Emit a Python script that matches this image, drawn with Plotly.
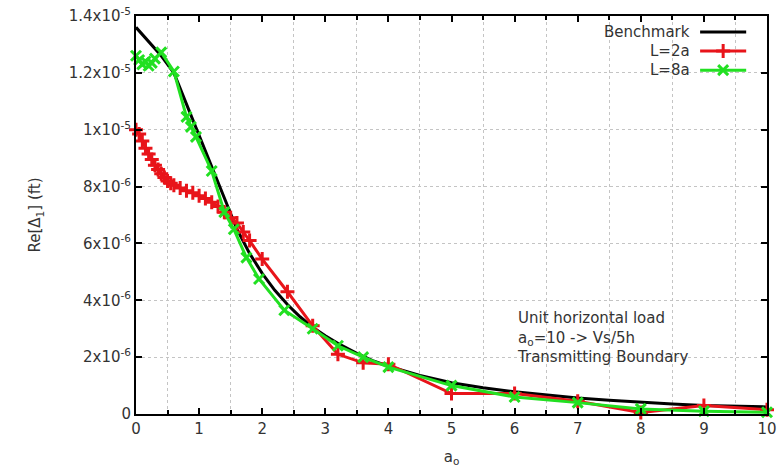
import plotly.graph_objects as go

# Frequency ratio a_o and real part of horizontal displacement (ft)
bench_a = [0, 0.2, 0.4, 0.6, 0.8, 1.0, 1.2, 1.4, 1.6, 1.8, 2.0, 2.2, 2.4, 2.6,
           2.8, 3.0, 3.25, 3.5, 3.75, 4.0, 4.5, 5.0, 5.5, 6.0, 6.5, 7.0, 7.5,
           8.0, 8.5, 9.0, 9.5, 10.0]
bench_re = [13.6, 13.1, 12.6, 12.0, 10.9, 9.8, 8.7, 7.6, 6.5, 5.65, 4.95, 4.35,
            3.85, 3.42, 3.05, 2.75, 2.42, 2.13, 1.88, 1.68, 1.36, 1.1, 0.92,
            0.78, 0.66, 0.56, 0.48, 0.41, 0.35, 0.3, 0.27, 0.25]

l2_a = [0, 0.05, 0.1, 0.15, 0.2, 0.25, 0.3, 0.35, 0.4, 0.45, 0.5, 0.55, 0.6,
        0.7, 0.8, 0.9, 1.0, 1.1, 1.2, 1.3, 1.4, 1.5, 1.6, 1.7, 1.8, 2.0, 2.4,
        2.8, 3.2, 3.6, 4.0, 5.0, 6.0, 7.0, 8.0, 9.0, 10.0]
l2_re = [10.0, 9.85, 9.6, 9.35, 9.15, 8.95, 8.75, 8.6, 8.45, 8.32, 8.2, 8.12,
         8.05, 7.95, 7.85, 7.78, 7.68, 7.58, 7.45, 7.3, 7.1, 6.9, 6.72, 6.4,
         6.1, 5.45, 4.3, 3.1, 2.1, 1.8, 1.75, 0.72, 0.72, 0.45, 0.05, 0.3, 0.15]

l8_a = [0, 0.05, 0.1, 0.15, 0.2, 0.25, 0.3, 0.4, 0.6, 0.8, 0.87, 0.95, 1.2,
        1.4, 1.55, 1.75, 1.95, 2.35, 2.8, 3.2, 3.6, 4.0, 5.0, 6.0, 7.0, 8.0,
        9.0, 10.0]
l8_re = [12.6, 12.45, 12.3, 12.4, 12.25, 12.35, 12.5, 12.72, 12.05, 10.45,
         10.1, 9.75, 8.55, 7.1, 6.5, 5.5, 4.75, 3.65, 3.0, 2.4, 2.0, 1.65, 1.0,
         0.6, 0.4, 0.18, 0.1, 0.06]

y_ticks = [0, 2e-6, 4e-6, 6e-6, 8e-6, 1e-5, 1.2e-5, 1.4e-5]
y_labels = ["0", "2x10<sup>-6</sup>", "4x10<sup>-6</sup>", "6x10<sup>-6</sup>",
            "8x10<sup>-6</sup>", "1x10<sup>-5</sup>", "1.2x10<sup>-5</sup>",
            "1.4x10<sup>-5</sup>"]

series = [
    ("Benchmark", bench_a, bench_re, "black", None),
    ("L=2a", l2_a, l2_re, "#e8141a", "cross-thin"),
    ("L=8a", l8_a, l8_re, "#22e022", "x-thin"),
]

FONT = "DejaVu Sans, Verdana, sans-serif"
TXT = "#333333"

fig = go.Figure()
for name, xs, ys, col, sym in series:
    fig.add_trace(go.Scatter(
        x=xs, y=[v * 1e-6 for v in ys], name=name,
        mode="lines" if sym is None else "lines+markers",
        line=dict(color=col, width=3),
        marker=dict(symbol=sym or "circle", size=10,
                    line=dict(color=col, width=3)),
        cliponaxis=False, showlegend=False,
    ))

# Key in the upper right: label, then line sample with its marker
key_x0, key_x1, key_txt = 0.894, 0.967, 0.881
key_rows = [0.960, 0.912, 0.864]
for (name, _, _, col, sym), ky in zip(series, key_rows):
    fig.add_trace(go.Scatter(
        x=[key_x0, key_x1], y=[ky, ky], xaxis="x2", yaxis="y2",
        mode="lines", line=dict(color=col, width=3), showlegend=False,
        hoverinfo="skip", cliponaxis=False,
    ))
    if sym:
        fig.add_trace(go.Scatter(
            x=[(key_x0 + key_x1) / 2], y=[ky], xaxis="x2", yaxis="y2",
            mode="markers", marker=dict(symbol=sym, size=10,
                                        line=dict(color=col, width=3)),
            showlegend=False, hoverinfo="skip", cliponaxis=False,
        ))
    fig.add_annotation(x=key_txt, y=ky, xref="x2", yref="y2", text=name,
                       showarrow=False, xanchor="right", yanchor="middle",
                       font=dict(family=FONT, size=15, color=TXT))

fig.add_annotation(
    x=6.0, y=3.75e-6, xref="x", yref="y", xanchor="left", yanchor="top",
    align="left", showarrow=False,
    text="Unit horizontal load<br>a<sub>o</sub>=10 -> Vs/5h<br>Transmitting Boundary",
    font=dict(family=FONT, size=15, color=TXT),
)

grid = dict(showgrid=True, gridcolor="#c4c4c4", griddash="dot", gridwidth=1)

fig.update_layout(
    width=784, height=470,
    margin=dict(l=136, r=17, t=16, b=56),
    paper_bgcolor="white", plot_bgcolor="white",
    font=dict(family=FONT, size=15, color=TXT),
    xaxis=dict(
        range=[0, 10], tickmode="linear", tick0=0, dtick=1, automargin=False,
        ticks="inside", ticklen=6, tickwidth=1.5, tickcolor="black",
        showline=True, linecolor="black", linewidth=2, mirror="ticks",
        zeroline=False, showgrid=False,
        minor=dict(dtick=0.5, ticks="inside", ticklen=4, tickcolor="black",
                   **grid),
        title=dict(text="a<sub>o</sub>", standoff=14,
                   font=dict(family=FONT, size=15, color=TXT)),
        tickfont=dict(family=FONT, size=15, color=TXT),
    ),
    yaxis=dict(
        range=[0, 1.4e-5], tickvals=y_ticks, ticktext=y_labels,
        automargin=False,
        ticks="inside", ticklen=6, tickwidth=1.5, tickcolor="black",
        showline=True, linecolor="black", linewidth=2, mirror="ticks",
        zeroline=False, **grid,
        title=dict(text="Re[Δ<sub>1</sub>] (ft)", standoff=24,
                   font=dict(family=FONT, size=15, color=TXT)),
        tickfont=dict(family=FONT, size=15, color=TXT),
    ),
    xaxis2=dict(range=[0, 1], overlaying="x", visible=False, fixedrange=True),
    yaxis2=dict(range=[0, 1], overlaying="y", visible=False, fixedrange=True),
)

fig.write_html("out.html")
